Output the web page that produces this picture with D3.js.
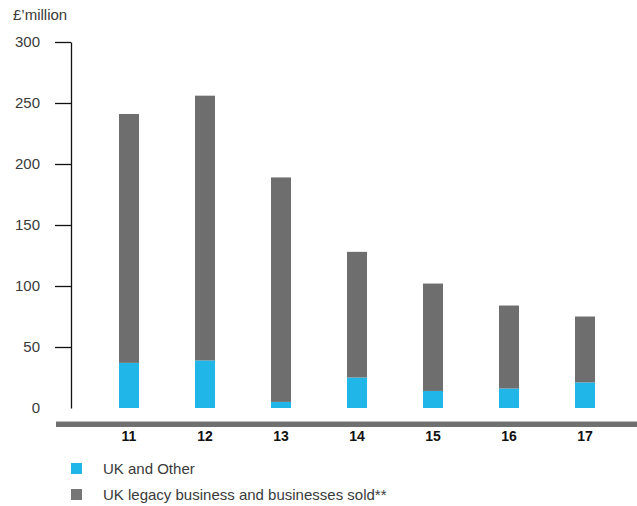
<html>
<head>
<script src="https://d3js.org/d3.v7.min.js"></script>
<style>
body { margin: 0; background: #fff; }
text { font-family: "Liberation Sans", Arial, sans-serif; }
</style>
</head>
<body>
<svg width="637" height="506"></svg>
<script>
var years = ["11", "12", "13", "14", "15", "16", "17"];
var ukOther = [37, 39, 5, 25, 14, 16, 21];
var totals = [241, 256, 189, 128, 102, 84, 75];
var yTicks = [0, 50, 100, 150, 200, 250, 300];
var seriesNames = ["UK and Other", "UK legacy business and businesses sold**"];
var colors = ["#21b6e8", "#6e6e6e"];

var svg = d3.select("svg");

var x = d3.scaleBand().domain(years).range([91, 623])
  .paddingInner(56 / 76).paddingOuter(28 / 76);
var y = d3.scaleLinear().domain([0, 300]).range([408, 42]);

// stacked data: blue bottom, grey remainder on top
var data = years.map(function(yr, i) {
  return { year: yr, blue: ukOther[i], grey: totals[i] - ukOther[i] };
});
var stack = d3.stack().keys(["blue", "grey"])(data);

svg.append("g").selectAll("g")
  .data(stack)
  .enter().append("g")
  .attr("fill", function(d, i) { return colors[i]; })
  .selectAll("rect")
  .data(function(d) { return d; })
  .enter().append("rect")
  .attr("x", function(d) { return x(d.data.year); })
  .attr("width", x.bandwidth())
  .attr("y", function(d) { return y(d[1]); })
  .attr("height", function(d) { return y(d[0]) - y(d[1]); });

// y axis
var yAxis = svg.append("g")
  .attr("transform", "translate(71,0)")
  .call(d3.axisLeft(y).tickValues(yTicks).tickSize(16).tickSizeOuter(0).tickPadding(15));
yAxis.select(".domain").attr("stroke", "#111").attr("stroke-width", 1.3);
yAxis.selectAll(".tick line").attr("stroke", "#111").attr("stroke-width", 1.3)
  .filter(function(d) { return d === 0; }).remove();
yAxis.selectAll(".tick text").attr("fill", "#3a3a3a").style("font-size", "15px")
  .style("font-family", "'Liberation Sans', Arial, sans-serif");

svg.append("text").attr("x", 13).attr("y", 20)
  .attr("fill", "#3a3a3a").style("font-size", "15px").text("£’million");

// baseline bar
svg.append("rect").attr("x", 56).attr("y", 421).attr("width", 581).attr("height", 1)
  .attr("fill", "#bdbdbd");
svg.append("rect").attr("x", 56).attr("y", 422).attr("width", 581).attr("height", 5)
  .attr("fill", "#707070");

// x axis labels
var xAxis = svg.append("g")
  .attr("transform", "translate(0,431)")
  .call(d3.axisBottom(x).tickSize(0).tickPadding(0));
xAxis.select(".domain").remove();
xAxis.selectAll(".tick text").attr("fill", "#111").style("font-size", "14px")
  .style("font-weight", "bold").style("font-family", "'Liberation Sans', Arial, sans-serif");

// legend
var legend = svg.append("g").selectAll("g")
  .data(seriesNames).enter().append("g")
  .attr("transform", function(d, i) { return "translate(71," + (463 + i * 26) + ")"; });
legend.append("rect").attr("width", 11).attr("height", 11)
  .attr("fill", function(d, i) { return i === 0 ? colors[0] : "#767676"; });
legend.append("text").attr("x", 32).attr("y", 5.5).attr("dy", "0.35em")
  .attr("fill", "#3a3a3a").style("font-size", "15px").text(function(d) { return d; });
</script>
</body>
</html>
